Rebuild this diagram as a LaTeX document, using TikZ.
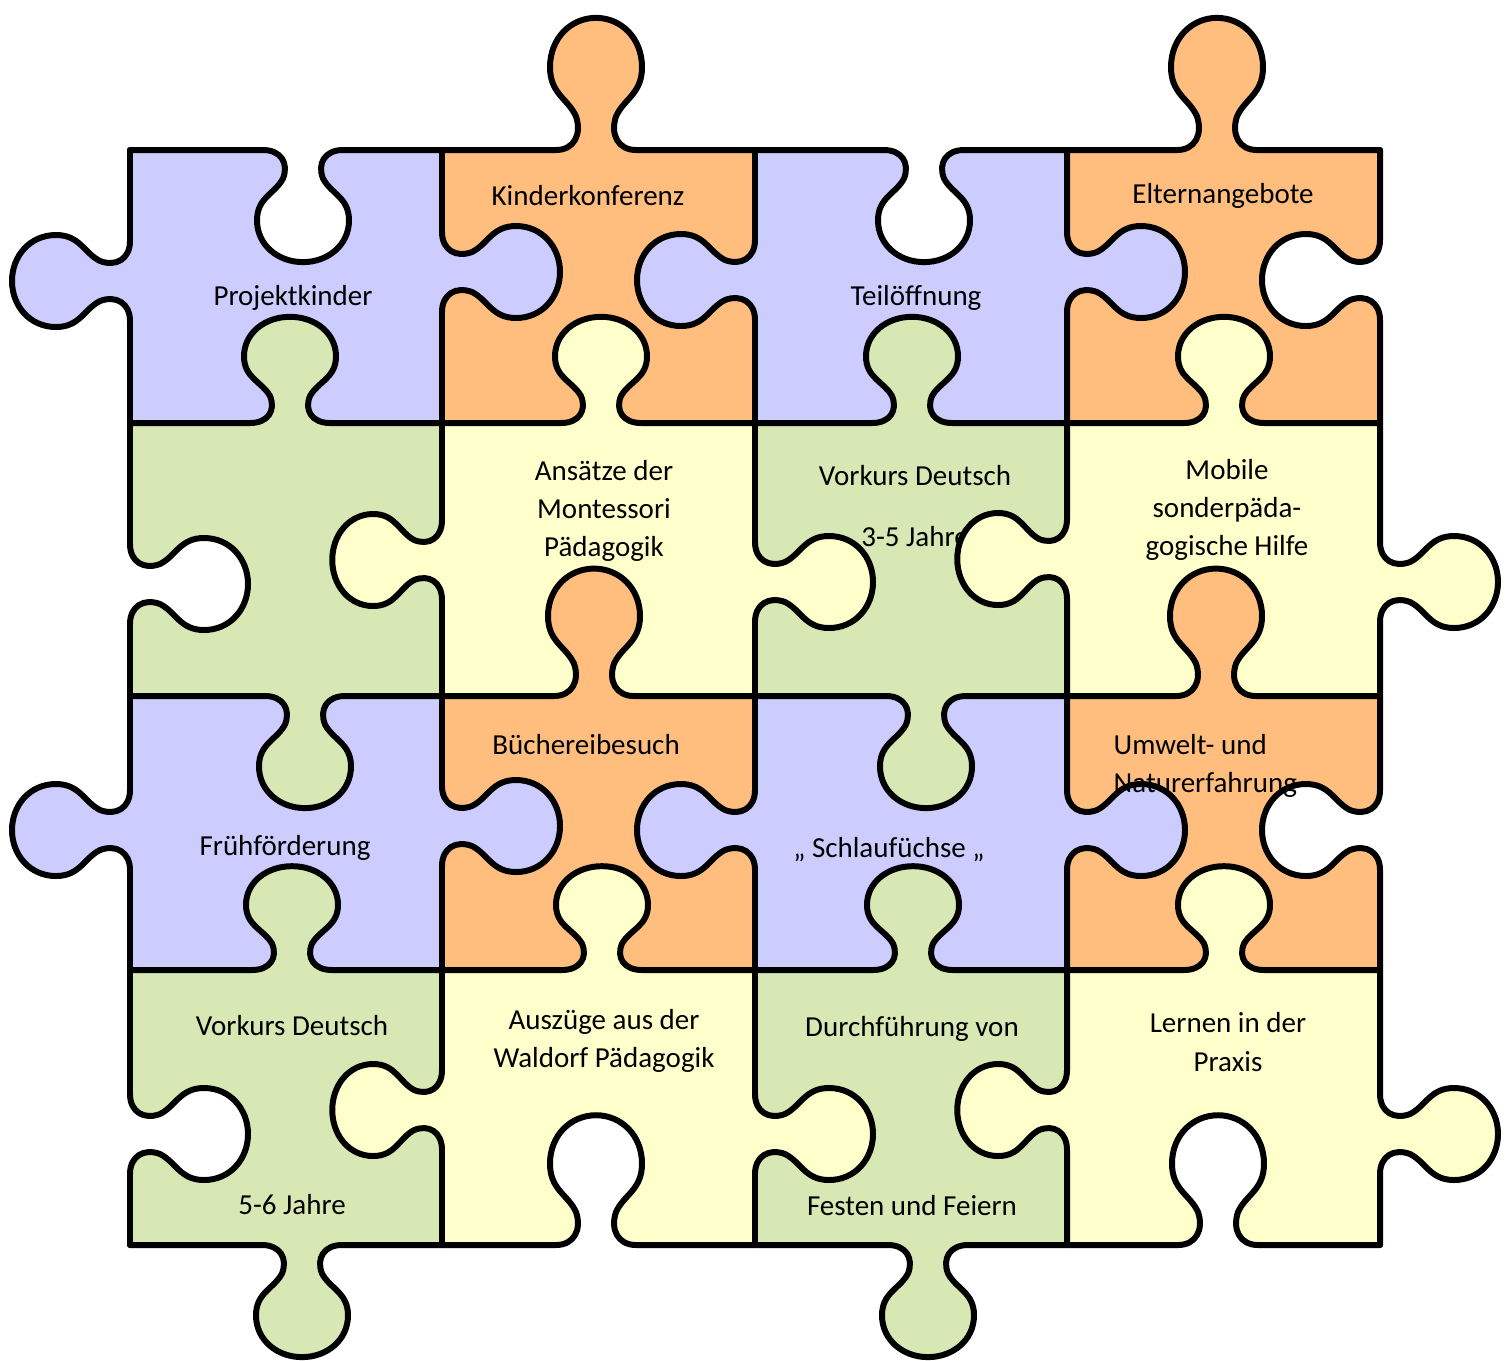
\documentclass[tikz,border=0pt]{standalone}
\usepackage{fontspec}
\setmainfont{Carlito}
\usepackage{xcolor}
\definecolor{pzblue}{HTML}{CCCCFF}
\definecolor{pzorange}{HTML}{FFBE7D}
\definecolor{pzgreen}{HTML}{D7E8B4}
\definecolor{pzyellow}{HTML}{FFFFCC}
\tikzset{
    pzline/.style={draw=black, line width=1.7pt, line join=round, line cap=round},
    pzlabel/.style={align=center, inner sep=0pt, font=\fontsize{8.25}{10.9}\selectfont},
    pzlabelleft/.style={pzlabel, align=left}
}
\newcommand{\pzbump}{.. controls (-22,0) and (-14,14) .. (-20,30)
    .. controls (-28,46) and (-46,50) .. (-46,74)
    .. controls (-46,100) and (-25,118) .. (0,118)
    .. controls (25,118) and (46,100) .. (46,74)
    .. controls (46,50) and (28,46) .. (20,30)
    .. controls (14,14) and (22,0) .. (40,0)}
% tab centre, line, from, to, side*depth, colour
\newcommand{\pzhedge}[6]{%
    \begin{scope}[shift={(#1,#2)}, x={(0.1mm,0mm)}, y={(0mm,{-0.1mm*(#5)})}]
        \fill[#6] (-40,0) \pzbump -- cycle;
        \draw[pzline] ({#3-#1},0) -- (-40,0) \pzbump -- ({#4-#1},0);
    \end{scope}}
\newcommand{\pzvedge}[6]{%
    \begin{scope}[shift={(#1,#2)}, x={(0mm,-0.1mm)}, y={({0.1mm*(#5)},0mm)}]
        \fill[#6] (-40,0) \pzbump -- cycle;
        \draw[pzline] ({#3-#2},0) -- (-40,0) \pzbump -- ({#4-#2},0);
    \end{scope}}

\begin{document}
\begin{tikzpicture}[x=0.1mm, y=-0.1mm]
    \useasboundingbox (0,0) rectangle (1511,1360);
    \foreach \xa/\xb/\ca/\cb in {130/442/pzblue/pzgreen, 442/755/pzorange/pzyellow, 755/1067/pzblue/pzgreen, 1067/1380/pzorange/pzyellow}{
        \fill[\ca] (\xa,150) rectangle (\xb,423);
        \fill[\cb] (\xa,423) rectangle (\xb,696);
        \fill[\ca] (\xa,696) rectangle (\xb,970);
        \fill[\cb] (\xa,970) rectangle (\xb,1245);
    }

    \node[pzlabel] (projekt) at (293,298) {Projektkinder};
    \node[pzlabel] (konferenz) at (588,196) {Kinderkonferenz};
    \node[pzlabel] (teiloeffnung) at (916,298) {Teilöffnung};
    \node[pzlabel] (eltern) at (1223,196) {Elternangebote};
    \node[pzlabel] (montessori) at (604,511) {Ansätze der\\Montessori\\Pädagogik};
    \node[pzlabel] (vorkursa) at (915,506) {Vorkurs Deutsch\\[6.4pt]3-5 Jahre};
    \node[pzlabel] (mobile) at (1227,510) {Mobile\\sonderpäda-\\gogische Hilfe};
    \node[pzlabel] (frueh) at (285,848) {Frühförderung};
    \node[pzlabel] (buecherei) at (586,745) {Büchereibesuch};
    \node[pzlabel] (schlau) at (889,850) {„ Schlaufüchse „};
    \node[pzlabel] (vorkursb) at (292,1115) {Vorkurs Deutsch\\[40pt]5-6 Jahre};
    \node[pzlabel] (waldorf) at (604,1041) {Auszüge aus der\\Waldorf Pädagogik};
    \node[pzlabel] (feste) at (912,1116) {Durchführung von\\[40pt]Festen und Feiern};
    \node[pzlabel] (praxis) at (1228,1042) {Lernen in der\\Praxis};

    \foreach \tc/\yy/\ea/\eb/\s/\c in {
        303/150/130/442/0.95/white, 596/150/442/755/-1.12/pzorange,
        924/150/755/1067/0.95/white, 1217/150/1067/1380/-1.12/pzorange,
        290/423/130/442/-0.9/pzgreen, 601/423/442/755/-0.9/pzyellow,
        912/423/755/1067/-0.9/pzgreen, 1224/423/1067/1380/-0.9/pzyellow,
        305/696/130/442/0.95/pzgreen, 594/696/442/755/-1.08/pzorange,
        926/696/755/1067/0.95/pzgreen, 1216/696/1067/1380/-1.08/pzorange,
        292/970/130/442/-0.88/pzgreen, 602/970/442/755/-0.88/pzyellow,
        913/970/755/1067/-0.88/pzgreen, 1224/970/1067/1380/-0.88/pzyellow,
        302/1245/130/442/0.95/pzgreen, 596/1245/442/755/-1.1/white,
        928/1245/755/1067/0.95/pzgreen, 1218/1245/1067/1380/-1.1/white}
        {\pzhedge{\tc}{\yy}{\ea}{\eb}{\s}{\c}}
    \foreach \xx/\tc/\ea/\eb/\s/\c in {
        130/281/150/423/-1/pzblue, 130/584/423/696/1/white,
        130/830/696/970/-1/pzblue, 130/1134/970/1245/1/white,
        442/272/150/423/1/pzblue, 442/560/423/696/-0.93/pzyellow,
        442/826/696/970/1/pzblue, 442/1110/970/1245/-0.93/pzyellow,
        755/280/150/423/-1/pzblue, 755/582/423/696/1/pzyellow,
        755/830/696/970/-1/pzblue, 755/1134/970/1245/1/pzyellow,
        1067/272/150/423/1/pzblue, 1067/559/423/696/-0.93/pzyellow,
        1067/830/696/970/1/pzblue, 1067/1110/970/1245/-0.93/pzyellow,
        1380/280/150/423/-1/white, 1380/582/423/696/1/pzyellow,
        1380/830/696/970/-1/white, 1380/1134/970/1245/1/pzyellow}
        {\pzvedge{\xx}{\tc}{\ea}{\eb}{\s}{\c}}

    \node[pzlabelleft, anchor=west] (umwelt) at (1113,766) {Umwelt- und\\Naturerfahrung};
\end{tikzpicture}
\end{document}
